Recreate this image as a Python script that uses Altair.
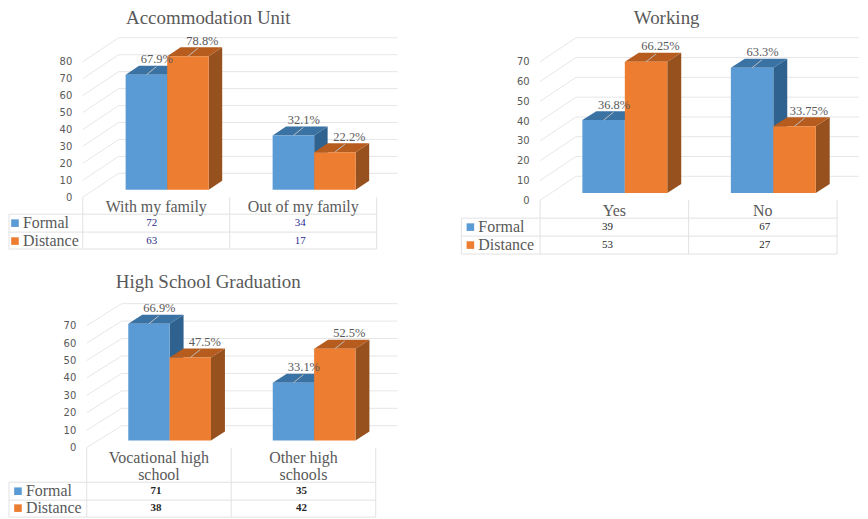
import altair as alt
import pandas as pd

# ---- values ----
titles = ["Accommodation Unit", "Working", "High School Graduation"]
series = ["Formal", "Distance"]
cats_a = [["With my family"], ["Out of my family"]]
cats_b = [["Yes"], ["No"]]
cats_c = [["Vocational high", "school"], ["Other high", "schools"]]
pct_a = [[67.9, 32.1], [78.8, 22.2]]
pct_b = [[36.8, 63.3], [66.25, 33.75]]
pct_c = [[66.9, 33.1], [47.5, 52.5]]
lab_a = [["67.9%", "32.1%"], ["78.8%", "22.2%"]]
lab_b = [["36.8%", "63.3%"], ["66.25%", "33.75%"]]
lab_c = [["66.9%", "33.1%"], ["47.5%", "52.5%"]]
tbl_a = [[72, 34], [63, 17]]
tbl_b = [[39, 67], [53, 27]]
tbl_c = [[71, 35], [38, 42]]
ticks_a = [0, 10, 20, 30, 40, 50, 60, 70, 80]
ticks_bc = [0, 10, 20, 30, 40, 50, 60, 70]

# ---- styles ----
FRONT = ["#5B9BD5", "#ED7D31"]
SIDE = ["#2F628F", "#96511E"]
TOP = ["#3A72A3", "#B65C1F"]
GRID = "#E6E6E6"
INK = "#595959"
SERIF = "Liberation Serif"


def panel(title, cats, pct, labels, table, ticks, left, width, top, bottom, x0, col, zero, ppu,
          bar_w, shift, lift, wall_dx, wall_dy, dep_x, dep_y, wall_right, rows, table_left,
          cat_ys, row_ys, val_shift, val_color, val_weight, title_dx, title_offset, swatch_x):
    ux = lambda px: (px - x0) / col          # pixel to category units
    uy = lambda py: (zero - py) / ppu        # pixel to value units
    dx_u, dy_u = dep_x / col, dep_y / ppu
    lift_u = lift / ppu
    xs = alt.Scale(domain=[ux(left), ux(left + width)], nice=False, zero=False)
    ys = alt.Scale(domain=[uy(bottom), uy(top)], nice=False, zero=False)
    axis = alt.Axis(values=ticks, domain=False, ticks=False, grid=False, title=None,
                    offset=-(x0 - left), labelPadding=11, labelFont="DejaVu Sans",
                    labelFontSize=10, labelColor=INK)
    X = lambda f="x": alt.X(f"{f}:Q", scale=xs, axis=None)
    Y = lambda f="y": alt.Y(f"{f}:Q", scale=ys, axis=axis)
    layers = []

    # walls
    segs = []
    for t in ticks:
        segs.append(dict(x=0, x2=wall_dx / col, y=t, y2=t + wall_dy / ppu))
        segs.append(dict(x=wall_dx / col, x2=ux(wall_right), y=t + wall_dy / ppu, y2=t + wall_dy / ppu))
    layers.append(alt.Chart(pd.DataFrame(segs)).mark_rule(color=GRID, strokeWidth=1).encode(
        x=X(), x2="x2:Q", y=Y(), y2="y2:Q"))

    # table lines
    tsegs = [dict(x=i, x2=i, y=uy(zero), y2=uy(rows[-1])) for i in (0, 1, 2)]
    tsegs += [dict(x=ux(table_left), x2=2, y=uy(r), y2=uy(r)) for r in rows]
    tsegs.append(dict(x=ux(table_left), x2=ux(table_left), y=uy(rows[0]), y2=uy(rows[-1])))
    layers.append(alt.Chart(pd.DataFrame(tsegs)).mark_rule(color="#E2E2E2", strokeWidth=1).encode(
        x=X(), x2="x2:Q", y=Y(), y2="y2:Q"))

    # 3D bars
    w = bar_w / col
    shade = alt.Scale(domain=["s0", "s1", "t0", "t1"], range=[SIDE[0], SIDE[1], TOP[0], TOP[1]])
    fronts, leaders, texts = [], [], []
    for s in (0, 1):
        polys = []
        for c in (0, 1):
            v = pct[s][c] + lift_u
            l = c + 0.5 + shift / col + (s - 1) * w
            r = l + w
            sid = f"s{s}{c}"
            polys += [dict(id=sid, shade=f"s{s}", x=r, y=lift_u, y2=v),
                      dict(id=sid, shade=f"s{s}", x=r + dx_u, y=lift_u + dy_u, y2=v + dy_u)]
            tid = f"t{s}{c}"
            polys += [dict(id=tid, shade=f"t{s}", x=l, y=v, y2=v),
                      dict(id=tid, shade=f"t{s}", x=l + dx_u, y=v, y2=v + dy_u),
                      dict(id=tid, shade=f"t{s}", x=r, y=v, y2=v + dy_u),
                      dict(id=tid, shade=f"t{s}", x=r + dx_u, y=v + dy_u, y2=v + dy_u)]
            fronts.append(dict(series=series[s], x=l, x2=r, y=lift_u, y2=v))
            off = 10.5 if s == 0 else 14.5
            mid = (l + r) / 2
            leaders.append(dict(x=mid, x2=mid + 10 / col, y=v, y2=v + 8 / ppu))
            texts.append(dict(x=mid + off / col, y=v + 15.5 / ppu, t=labels[s][c]))
        layers.append(alt.Chart(pd.DataFrame(polys)).mark_area(interpolate="linear").encode(
            x=X(), y=Y(), y2="y2:Q", detail="id:N",
            color=alt.Color("shade:N", scale=shade, legend=None)))
    front_scale = alt.Scale(domain=series, range=FRONT)
    layers.append(alt.Chart(pd.DataFrame(fronts)).mark_rect().encode(
        x=X(), x2="x2:Q", y=Y(), y2="y2:Q",
        color=alt.Color("series:N", scale=front_scale, legend=None)))
    layers.append(alt.Chart(pd.DataFrame(leaders)).mark_rule(color="#BDBDBD", strokeWidth=1).encode(
        x=X(), x2="x2:Q", y=Y(), y2="y2:Q"))
    layers.append(alt.Chart(pd.DataFrame(texts)).mark_text(
        font=SERIF, fontSize=12.5, color=INK, align="center", baseline="middle").encode(
        x=X(), y=Y(), text="t:N"))

    # table text
    cat_rows = []
    for c, lines in enumerate(cats):
        for k, line in enumerate(lines):
            cat_rows.append(dict(x=c + 0.5, y=uy(cat_ys[k]), t=line))
    layers.append(alt.Chart(pd.DataFrame(cat_rows)).mark_text(
        font=SERIF, fontSize=16, color=INK, align="center", baseline="middle").encode(
        x=X(), y=Y(), text="t:N"))
    vals = [dict(x=c + 0.5 + val_shift[c] / col, y=uy(row_ys[s]), t=str(table[s][c]))
            for s in (0, 1) for c in (0, 1)]
    layers.append(alt.Chart(pd.DataFrame(vals)).mark_text(
        font=SERIF, fontSize=11, color=val_color, fontWeight=val_weight,
        align="center", baseline="middle").encode(x=X(), y=Y(), text="t:N"))
    keys = pd.DataFrame([dict(series=series[s], x=ux(swatch_x), tx=ux(swatch_x + 8), y=uy(row_ys[s]))
                         for s in (0, 1)])
    layers.append(alt.Chart(keys).mark_square(size=58, opacity=1, filled=True).encode(
        x=X(), y=Y(), color=alt.Color("series:N", scale=front_scale, legend=None)))
    layers.append(alt.Chart(keys).mark_text(
        font=SERIF, fontSize=16, color=INK, align="left", baseline="middle").encode(
        x=X("tx"), y=Y(), text="series:N"))

    return alt.layer(*layers).resolve_scale(color="independent").properties(
        width=width, height=bottom - top,
        title=alt.TitleParams(title, font=SERIF, fontSize=19, fontWeight="normal", color=INK,
                              anchor="middle", dx=title_dx, offset=title_offset))


a = panel(titles[0], cats_a, pct_a, lab_a, tbl_a, ticks_a, left=8, width=400, top=30, bottom=255,
          x0=82, col=147.5, zero=197, ppu=1.7, bar_w=41.7, shift=11, lift=7.5, wall_dx=36, wall_dy=24,
          dep_x=13.5, dep_y=9, wall_right=398, rows=[214, 232, 249], table_left=8, cat_ys=[207],
          row_ys=[223, 241], val_shift=[-4.5, -3], val_color="#2E2E8F", val_weight="normal",
          title_dx=0, title_offset=3, swatch_x=14)
b = panel(titles[1], cats_b, pct_b, lab_b, tbl_b, ticks_bc, left=461, width=399, top=30, bottom=255,
          x0=540, col=149, zero=200, ppu=1.986, bar_w=42.6, shift=10.5, lift=7.3, wall_dx=36, wall_dy=24,
          dep_x=14, dep_y=9, wall_right=860, rows=[218, 236, 254], table_left=461, cat_ys=[211],
          row_ys=[227, 245], val_shift=[-7, 2], val_color="#262626", val_weight="normal",
          title_dx=6.5, title_offset=3, swatch_x=470)
c = panel(titles[2], cats_c, pct_c, lab_c, tbl_c, ticks_bc, left=8, width=400, top=295, bottom=519,
          x0=86, col=145, zero=448.3, ppu=1.75, bar_w=41.5, shift=10.7, lift=7.3, wall_dx=35, wall_dy=22,
          dep_x=14, dep_y=9, wall_right=398, rows=[483, 501, 518], table_left=8, cat_ys=[458.5, 476],
          row_ys=[492, 509], val_shift=[-3, -2], val_color="#262626", val_weight="bold",
          title_dx=0, title_offset=3, swatch_x=17)

chart = alt.vconcat(alt.hconcat(a, b, spacing=53), c, spacing=18).properties(
    padding=0, background="white"
).configure_view(strokeWidth=0)

chart.save("out.html", embed_options={"renderer": "svg", "actions": False})
